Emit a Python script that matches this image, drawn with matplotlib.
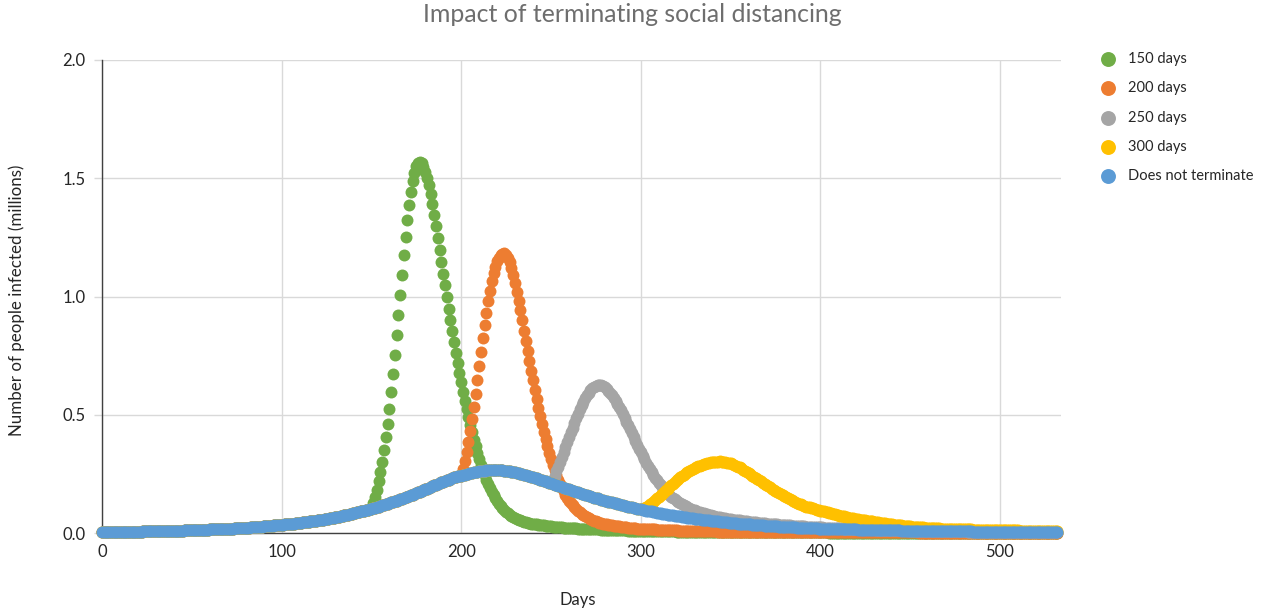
import numpy as np
import matplotlib
matplotlib.use("Agg")
import matplotlib.pyplot as plt

plt.rcParams['font.family'] = ['Lato', 'DejaVu Sans']

# ---------------- data (millions infected per day) ----------------
days = list(range(0, 533))

does_not_terminate = [
    0.004, 0.004, 0.004, 0.004, 0.004, 0.004, 0.005, 0.005, 0.005, 0.005,
    0.005, 0.005, 0.005, 0.005, 0.005, 0.006, 0.006, 0.006, 0.006, 0.006,
    0.006, 0.006, 0.006, 0.007, 0.007, 0.007, 0.007, 0.007, 0.007, 0.008,
    0.008, 0.008, 0.008, 0.008, 0.008, 0.008, 0.009, 0.009, 0.009, 0.009,
    0.009, 0.010, 0.010, 0.010, 0.010, 0.010, 0.011, 0.011, 0.011, 0.011,
    0.012, 0.012, 0.012, 0.012, 0.013, 0.013, 0.013, 0.013, 0.014, 0.014,
    0.015, 0.015, 0.015, 0.016, 0.016, 0.016, 0.017, 0.017, 0.017, 0.018,
    0.018, 0.018, 0.019, 0.019, 0.020, 0.020, 0.020, 0.021, 0.021, 0.022,
    0.022, 0.023, 0.023, 0.024, 0.024, 0.025, 0.025, 0.026, 0.026, 0.027,
    0.028, 0.028, 0.029, 0.030, 0.030, 0.031, 0.032, 0.032, 0.033, 0.034,
    0.034, 0.035, 0.036, 0.037, 0.037, 0.038, 0.039, 0.040, 0.041, 0.042,
    0.043, 0.044, 0.045, 0.046, 0.047, 0.048, 0.049, 0.050, 0.051, 0.052,
    0.053, 0.054, 0.055, 0.057, 0.058, 0.059, 0.060, 0.062, 0.063, 0.065,
    0.066, 0.068, 0.069, 0.071, 0.072, 0.074, 0.076, 0.078, 0.079, 0.081,
    0.083, 0.085, 0.087, 0.089, 0.091, 0.093, 0.095, 0.097, 0.099, 0.101,
    0.103, 0.105, 0.107, 0.110, 0.112, 0.114, 0.117, 0.119, 0.122, 0.124,
    0.127, 0.130, 0.132, 0.135, 0.137, 0.140, 0.143, 0.145, 0.148, 0.151,
    0.153, 0.156, 0.159, 0.162, 0.165, 0.168, 0.172, 0.175, 0.178, 0.181,
    0.185, 0.188, 0.191, 0.195, 0.198, 0.201, 0.204, 0.207, 0.211, 0.214,
    0.217, 0.220, 0.223, 0.226, 0.229, 0.232, 0.235, 0.237, 0.239, 0.241,
    0.243, 0.245, 0.247, 0.249, 0.251, 0.253, 0.255, 0.257, 0.259, 0.260,
    0.261, 0.262, 0.263, 0.264, 0.265, 0.266, 0.266, 0.266, 0.267, 0.267,
    0.266, 0.266, 0.265, 0.265, 0.264, 0.263, 0.262, 0.261, 0.260, 0.258,
    0.257, 0.255, 0.253, 0.251, 0.249, 0.247, 0.245, 0.243, 0.240, 0.238,
    0.236, 0.233, 0.231, 0.228, 0.226, 0.223, 0.221, 0.218, 0.216, 0.213,
    0.210, 0.208, 0.205, 0.202, 0.200, 0.197, 0.195, 0.192, 0.189, 0.187,
    0.184, 0.182, 0.179, 0.177, 0.174, 0.172, 0.169, 0.167, 0.164, 0.162,
    0.160, 0.157, 0.155, 0.153, 0.150, 0.148, 0.146, 0.144, 0.141, 0.139,
    0.137, 0.135, 0.133, 0.131, 0.129, 0.127, 0.125, 0.123, 0.121, 0.119,
    0.117, 0.115, 0.114, 0.112, 0.110, 0.108, 0.107, 0.105, 0.103, 0.102,
    0.100, 0.098, 0.097, 0.095, 0.094, 0.092, 0.091, 0.089, 0.088, 0.086,
    0.085, 0.084, 0.082, 0.081, 0.080, 0.078, 0.077, 0.076, 0.075, 0.073,
    0.072, 0.071, 0.070, 0.069, 0.068, 0.066, 0.065, 0.064, 0.063, 0.062,
    0.061, 0.060, 0.059, 0.058, 0.057, 0.056, 0.055, 0.054, 0.053, 0.052,
    0.051, 0.050, 0.050, 0.049, 0.048, 0.047, 0.046, 0.045, 0.045, 0.044,
    0.043, 0.042, 0.042, 0.041, 0.040, 0.040, 0.039, 0.038, 0.038, 0.037,
    0.036, 0.036, 0.035, 0.035, 0.034, 0.033, 0.033, 0.032, 0.032, 0.031,
    0.031, 0.030, 0.030, 0.029, 0.029, 0.028, 0.028, 0.027, 0.027, 0.026,
    0.026, 0.026, 0.025, 0.025, 0.024, 0.024, 0.024, 0.023, 0.023, 0.023,
    0.022, 0.022, 0.022, 0.021, 0.021, 0.021, 0.020, 0.020, 0.020, 0.019,
    0.019, 0.019, 0.019, 0.018, 0.018, 0.018, 0.018, 0.017, 0.017, 0.017,
    0.017, 0.016, 0.016, 0.016, 0.016, 0.016, 0.015, 0.015, 0.015, 0.015,
    0.015, 0.014, 0.014, 0.014, 0.014, 0.014, 0.013, 0.013, 0.013, 0.013,
    0.013, 0.013, 0.012, 0.012, 0.012, 0.012, 0.012, 0.012, 0.011, 0.011,
    0.011, 0.011, 0.011, 0.011, 0.011, 0.010, 0.010, 0.010, 0.010, 0.010,
    0.010, 0.010, 0.010, 0.009, 0.009, 0.009, 0.009, 0.009, 0.009, 0.009,
    0.009, 0.009, 0.008, 0.008, 0.008, 0.008, 0.008, 0.008, 0.008, 0.008,
    0.008, 0.008, 0.007, 0.007, 0.007, 0.007, 0.007, 0.007, 0.007, 0.007,
    0.007, 0.007, 0.007, 0.007, 0.007, 0.006, 0.006, 0.006, 0.006, 0.006,
    0.006, 0.006, 0.006, 0.006, 0.006, 0.006, 0.006, 0.006, 0.006, 0.006,
    0.006, 0.006, 0.005, 0.005, 0.005, 0.005, 0.005, 0.005, 0.005, 0.005,
    0.005, 0.005, 0.005, 0.005, 0.005, 0.005, 0.005, 0.005, 0.005, 0.005,
    0.005, 0.005, 0.004, 0.004, 0.004, 0.004, 0.004, 0.004, 0.004, 0.004,
    0.004, 0.004, 0.004,
]

# values after social distancing ends (before that day they equal "does not terminate")
after_150 = [  # days 150..532
    0.103, 0.125, 0.152, 0.183, 0.218, 0.258, 0.302, 0.350, 0.404, 0.462,
    0.526, 0.596, 0.672, 0.752, 0.836, 0.922, 1.008, 1.092, 1.174, 1.252,
    1.324, 1.388, 1.443, 1.488, 1.524, 1.550, 1.564, 1.569, 1.563, 1.549,
    1.528, 1.502, 1.470, 1.432, 1.390, 1.344, 1.296, 1.247, 1.197, 1.147,
    1.097, 1.047, 0.997, 0.948, 0.900, 0.853, 0.807, 0.762, 0.719, 0.677,
    0.637, 0.598, 0.560, 0.524, 0.490, 0.457, 0.425, 0.395, 0.366, 0.339,
    0.313, 0.289, 0.266, 0.245, 0.225, 0.207, 0.190, 0.174, 0.160, 0.147,
    0.135, 0.124, 0.114, 0.105, 0.097, 0.090, 0.083, 0.077, 0.072, 0.067,
    0.063, 0.059, 0.056, 0.053, 0.050, 0.048, 0.046, 0.044, 0.042, 0.040,
    0.039, 0.037, 0.036, 0.035, 0.034, 0.033, 0.032, 0.031, 0.030, 0.029,
    0.028, 0.027, 0.027, 0.026, 0.025, 0.025, 0.024, 0.023, 0.023, 0.022,
    0.022, 0.021, 0.021, 0.020, 0.020, 0.019, 0.019, 0.018, 0.018, 0.018,
    0.017, 0.017, 0.016, 0.016, 0.016, 0.015, 0.015, 0.015, 0.014, 0.014,
    0.014, 0.013, 0.013, 0.013, 0.013, 0.012, 0.012, 0.012, 0.012, 0.011,
    0.011, 0.011, 0.011, 0.010, 0.010, 0.010, 0.010, 0.010, 0.009, 0.009,
    0.009, 0.009, 0.009, 0.009, 0.008, 0.008, 0.008, 0.008, 0.008, 0.008,
    0.008, 0.008, 0.007, 0.007, 0.007, 0.007, 0.007, 0.007, 0.007, 0.007,
    0.006, 0.006, 0.006, 0.006, 0.006, 0.006, 0.006, 0.006, 0.006, 0.006,
    0.006, 0.006, 0.006, 0.006, 0.006, 0.005, 0.005, 0.005, 0.005, 0.005,
    0.005, 0.005, 0.005, 0.005, 0.005, 0.005, 0.005, 0.005, 0.005, 0.005,
    0.005, 0.005, 0.004, 0.004, 0.004, 0.004, 0.004, 0.004, 0.004, 0.004,
    0.004, 0.004, 0.004, 0.004, 0.004, 0.004, 0.004, 0.004, 0.004, 0.004,
    0.004, 0.004, 0.004, 0.004, 0.004, 0.003, 0.003, 0.003, 0.003, 0.003,
    0.003, 0.003, 0.003, 0.003, 0.003, 0.003, 0.003, 0.003, 0.003, 0.003,
    0.003, 0.003, 0.003, 0.003, 0.003, 0.003, 0.003, 0.003, 0.003, 0.003,
    0.003, 0.003, 0.003, 0.003, 0.003, 0.002, 0.002, 0.002, 0.002, 0.002,
    0.002, 0.002, 0.002, 0.002, 0.002, 0.002, 0.002, 0.002, 0.002, 0.002,
    0.002, 0.002, 0.002, 0.002, 0.002, 0.002, 0.002, 0.002, 0.002, 0.002,
    0.002, 0.002, 0.002, 0.002, 0.002, 0.002, 0.002, 0.002, 0.002, 0.002,
    0.002, 0.002, 0.002, 0.002, 0.002, 0.002, 0.002, 0.002, 0.002, 0.002,
    0.002, 0.002, 0.002, 0.002, 0.002, 0.002, 0.002, 0.002, 0.002, 0.002,
    0.002, 0.002, 0.002, 0.002, 0.002, 0.002, 0.002, 0.002, 0.002, 0.002,
    0.002, 0.002, 0.002, 0.002, 0.002, 0.002, 0.002, 0.002, 0.002, 0.002,
    0.001, 0.001, 0.001, 0.001, 0.001, 0.001, 0.001, 0.001, 0.001, 0.001,
    0.001, 0.001, 0.001, 0.001, 0.001, 0.001, 0.001, 0.001, 0.001, 0.001,
    0.001, 0.001, 0.001, 0.001, 0.001, 0.001, 0.001, 0.001, 0.001, 0.001,
    0.001, 0.001, 0.001, 0.001, 0.001, 0.001, 0.001, 0.001, 0.001, 0.001,
    0.001, 0.001, 0.001, 0.001, 0.001, 0.001, 0.001, 0.001, 0.001, 0.001,
    0.001, 0.001, 0.001,
]

after_200 = [  # days 200..532
    0.243, 0.272, 0.305, 0.342, 0.384, 0.430, 0.480, 0.533, 0.589, 0.647,
    0.706, 0.765, 0.823, 0.879, 0.932, 0.981, 1.025, 1.064, 1.098, 1.126,
    1.148, 1.164, 1.175, 1.181, 1.182, 1.176, 1.164, 1.146, 1.122, 1.092,
    1.058, 1.021, 0.982, 0.941, 0.899, 0.856, 0.813, 0.770, 0.728, 0.686,
    0.645, 0.605, 0.567, 0.530, 0.494, 0.460, 0.427, 0.396, 0.367, 0.339,
    0.313, 0.289, 0.266, 0.245, 0.226, 0.208, 0.191, 0.176, 0.162, 0.149,
    0.137, 0.127, 0.117, 0.109, 0.101, 0.094, 0.087, 0.081, 0.076, 0.071,
    0.066, 0.062, 0.058, 0.055, 0.052, 0.049, 0.046, 0.044, 0.042, 0.040,
    0.038, 0.036, 0.035, 0.033, 0.032, 0.031, 0.030, 0.029, 0.028, 0.027,
    0.026, 0.025, 0.024, 0.023, 0.022, 0.022, 0.021, 0.020, 0.019, 0.019,
    0.018, 0.018, 0.017, 0.017, 0.016, 0.016, 0.015, 0.015, 0.015, 0.014,
    0.014, 0.013, 0.013, 0.013, 0.012, 0.012, 0.012, 0.011, 0.011, 0.011,
    0.011, 0.010, 0.010, 0.010, 0.010, 0.009, 0.009, 0.009, 0.009, 0.009,
    0.008, 0.008, 0.008, 0.008, 0.008, 0.008, 0.007, 0.007, 0.007, 0.007,
    0.007, 0.007, 0.007, 0.006, 0.006, 0.006, 0.006, 0.006, 0.006, 0.006,
    0.006, 0.006, 0.006, 0.006, 0.006, 0.005, 0.005, 0.005, 0.005, 0.005,
    0.005, 0.005, 0.005, 0.005, 0.005, 0.005, 0.005, 0.005, 0.005, 0.005,
    0.005, 0.005, 0.005, 0.005, 0.005, 0.004, 0.004, 0.004, 0.004, 0.004,
    0.004, 0.004, 0.004, 0.004, 0.004, 0.004, 0.004, 0.004, 0.004, 0.004,
    0.004, 0.004, 0.004, 0.004, 0.004, 0.004, 0.004, 0.004, 0.004, 0.004,
    0.004, 0.004, 0.004, 0.004, 0.004, 0.003, 0.003, 0.003, 0.003, 0.003,
    0.003, 0.003, 0.003, 0.003, 0.003, 0.003, 0.003, 0.003, 0.003, 0.003,
    0.003, 0.003, 0.003, 0.003, 0.003, 0.003, 0.003, 0.003, 0.003, 0.003,
    0.003, 0.003, 0.003, 0.003, 0.003, 0.003, 0.003, 0.003, 0.003, 0.003,
    0.003, 0.003, 0.003, 0.003, 0.003, 0.003, 0.003, 0.003, 0.003, 0.003,
    0.003, 0.003, 0.003, 0.003, 0.003, 0.002, 0.002, 0.002, 0.002, 0.002,
    0.002, 0.002, 0.002, 0.002, 0.002, 0.002, 0.002, 0.002, 0.002, 0.002,
    0.002, 0.002, 0.002, 0.002, 0.002, 0.002, 0.002, 0.002, 0.002, 0.002,
    0.002, 0.002, 0.002, 0.002, 0.002, 0.002, 0.002, 0.002, 0.002, 0.002,
    0.002, 0.002, 0.002, 0.002, 0.002, 0.002, 0.002, 0.002, 0.002, 0.002,
    0.002, 0.002, 0.002, 0.002, 0.002, 0.002, 0.002, 0.002, 0.002, 0.002,
    0.002, 0.002, 0.002, 0.002, 0.002, 0.001, 0.001, 0.001, 0.001, 0.001,
    0.001, 0.001, 0.001, 0.001, 0.001, 0.001, 0.001, 0.001, 0.001, 0.001,
    0.001, 0.001, 0.001,
]

after_250 = [  # days 250..532
    0.210, 0.226, 0.243, 0.261, 0.280, 0.300, 0.320, 0.341, 0.362, 0.383,
    0.404, 0.425, 0.446, 0.466, 0.486, 0.505, 0.523, 0.540, 0.556, 0.570,
    0.583, 0.594, 0.603, 0.611, 0.617, 0.621, 0.624, 0.625, 0.624, 0.621,
    0.616, 0.610, 0.602, 0.593, 0.583, 0.572, 0.560, 0.547, 0.533, 0.518,
    0.503, 0.487, 0.471, 0.455, 0.438, 0.422, 0.405, 0.389, 0.373, 0.357,
    0.342, 0.327, 0.312, 0.298, 0.284, 0.271, 0.258, 0.246, 0.234, 0.223,
    0.212, 0.202, 0.193, 0.184, 0.176, 0.168, 0.161, 0.154, 0.148, 0.142,
    0.136, 0.131, 0.126, 0.121, 0.117, 0.113, 0.109, 0.105, 0.102, 0.099,
    0.096, 0.093, 0.090, 0.088, 0.085, 0.083, 0.081, 0.079, 0.077, 0.075,
    0.073, 0.071, 0.069, 0.068, 0.066, 0.065, 0.063, 0.062, 0.060, 0.059,
    0.058, 0.057, 0.056, 0.055, 0.054, 0.053, 0.052, 0.051, 0.050, 0.049,
    0.048, 0.047, 0.046, 0.045, 0.045, 0.044, 0.043, 0.042, 0.042, 0.041,
    0.040, 0.039, 0.039, 0.038, 0.037, 0.037, 0.036, 0.035, 0.035, 0.034,
    0.034, 0.033, 0.032, 0.032, 0.031, 0.031, 0.030, 0.030, 0.029, 0.029,
    0.028, 0.028, 0.027, 0.027, 0.026, 0.026, 0.026, 0.025, 0.025, 0.024,
    0.024, 0.024, 0.023, 0.023, 0.022, 0.022, 0.022, 0.021, 0.021, 0.021,
    0.020, 0.020, 0.020, 0.019, 0.019, 0.019, 0.018, 0.018, 0.018, 0.018,
    0.017, 0.017, 0.017, 0.016, 0.016, 0.016, 0.016, 0.015, 0.015, 0.015,
    0.015, 0.014, 0.014, 0.014, 0.014, 0.013, 0.013, 0.013, 0.013, 0.013,
    0.012, 0.012, 0.012, 0.012, 0.012, 0.011, 0.011, 0.011, 0.011, 0.011,
    0.010, 0.010, 0.010, 0.010, 0.010, 0.010, 0.009, 0.009, 0.009, 0.009,
    0.009, 0.009, 0.009, 0.008, 0.008, 0.008, 0.008, 0.008, 0.008, 0.008,
    0.007, 0.007, 0.007, 0.007, 0.007, 0.007, 0.007, 0.007, 0.007, 0.007,
    0.007, 0.007, 0.006, 0.006, 0.006, 0.006, 0.006, 0.006, 0.006, 0.006,
    0.006, 0.006, 0.006, 0.006, 0.006, 0.006, 0.006, 0.006, 0.006, 0.006,
    0.005, 0.005, 0.005, 0.005, 0.005, 0.005, 0.005, 0.005, 0.005, 0.005,
    0.005, 0.005, 0.005, 0.004, 0.004, 0.004, 0.004, 0.004, 0.004, 0.004,
    0.004, 0.004, 0.004, 0.004, 0.004, 0.004, 0.004, 0.004, 0.004, 0.004,
    0.004, 0.004, 0.004,
]

after_300 = [  # days 300..532
    0.100, 0.103, 0.107, 0.111, 0.116, 0.121, 0.127, 0.133, 0.139, 0.146,
    0.153, 0.160, 0.167, 0.174, 0.181, 0.188, 0.195, 0.202, 0.209, 0.216,
    0.222, 0.229, 0.235, 0.241, 0.247, 0.252, 0.257, 0.262, 0.267, 0.271,
    0.275, 0.279, 0.282, 0.285, 0.288, 0.291, 0.293, 0.295, 0.297, 0.299,
    0.300, 0.301, 0.302, 0.302, 0.303, 0.302, 0.301, 0.300, 0.298, 0.296,
    0.294, 0.291, 0.288, 0.285, 0.281, 0.277, 0.273, 0.268, 0.263, 0.258,
    0.253, 0.248, 0.243, 0.238, 0.233, 0.228, 0.223, 0.218, 0.213, 0.208,
    0.203, 0.198, 0.193, 0.188, 0.183, 0.178, 0.173, 0.168, 0.164, 0.160,
    0.156, 0.152, 0.148, 0.144, 0.140, 0.136, 0.132, 0.128, 0.124, 0.121,
    0.118, 0.115, 0.112, 0.110, 0.108, 0.106, 0.104, 0.101, 0.099, 0.097,
    0.095, 0.093, 0.091, 0.089, 0.087, 0.085, 0.083, 0.081, 0.079, 0.077,
    0.075, 0.073, 0.071, 0.070, 0.068, 0.066, 0.065, 0.063, 0.062, 0.061,
    0.060, 0.058, 0.057, 0.056, 0.054, 0.053, 0.052, 0.051, 0.050, 0.049,
    0.048, 0.047, 0.045, 0.044, 0.043, 0.042, 0.041, 0.040, 0.038, 0.037,
    0.036, 0.035, 0.034, 0.034, 0.033, 0.032, 0.031, 0.030, 0.029, 0.029,
    0.028, 0.027, 0.027, 0.026, 0.025, 0.025, 0.024, 0.024, 0.023, 0.023,
    0.022, 0.022, 0.021, 0.021, 0.021, 0.020, 0.020, 0.019, 0.019, 0.019,
    0.018, 0.018, 0.018, 0.017, 0.017, 0.017, 0.017, 0.016, 0.016, 0.016,
    0.015, 0.015, 0.015, 0.015, 0.015, 0.014, 0.014, 0.014, 0.014, 0.014,
    0.013, 0.013, 0.013, 0.013, 0.013, 0.013, 0.012, 0.012, 0.012, 0.012,
    0.012, 0.012, 0.012, 0.011, 0.011, 0.011, 0.011, 0.011, 0.011, 0.011,
    0.011, 0.010, 0.010, 0.010, 0.010, 0.010, 0.010, 0.010, 0.010, 0.010,
    0.010, 0.010, 0.009, 0.009, 0.009, 0.009, 0.009, 0.009, 0.009, 0.009,
    0.009, 0.009, 0.009,
]

terminate_150 = does_not_terminate[:150] + after_150
terminate_200 = does_not_terminate[:200] + after_200
terminate_250 = does_not_terminate[:250] + after_250
terminate_300 = does_not_terminate[:300] + after_300

series_labels = ["150 days", "200 days", "250 days", "300 days", "Does not terminate"]
series_values = [terminate_150, terminate_200, terminate_250, terminate_300, does_not_terminate]
series_colors = ["#70AD47", "#ED7D31", "#A5A5A5", "#FFC000", "#5B9BD5"]

x_ticks = [0, 100, 200, 300, 400, 500]
y_ticks = [0.0, 0.5, 1.0, 1.5, 2.0]
y_tick_labels = ["0.0", "0.5", "1.0", "1.5", "2.0"]

# ---------------- figure ----------------
W, H = 1270, 615
fig = plt.figure(figsize=(W / 100, H / 100), dpi=100)
ax = fig.add_axes([102 / W, 1 - 533 / H, (1061 - 102) / W, (533 - 60) / H])

handles = []
for lab, vals, col in zip(series_labels, series_values, series_colors):
    h = ax.scatter(days, vals, s=74, color=col, linewidths=0, label=lab,
                   clip_on=False, zorder=3)
    handles.append(h)

ax.set_xlim(0, 534)
ax.set_ylim(0, 2.0)
ax.set_xticks(x_ticks)
ax.set_yticks(y_ticks)
ax.set_yticklabels(y_tick_labels)
ax.grid(True, color="#D9D9D9", linewidth=1.0, zorder=0)
ax.set_axisbelow(True)

for side in ["top", "right"]:
    ax.spines[side].set_visible(False)
ax.spines["left"].set_color("#404040")
ax.spines["bottom"].set_color("#404040")
ax.spines["left"].set_linewidth(1.0)
ax.spines["bottom"].set_linewidth(1.0)

ax.tick_params(axis="y", direction="out", length=6, width=1, color="#D9D9D9",
               labelsize=12, labelcolor="#262626", pad=6)
ax.tick_params(axis="x", length=0, labelsize=12, labelcolor="#262626", pad=8)

fig.text(632 / W, 1 - 15 / H, "Impact of terminating social distancing",
         ha="center", va="center", fontsize=17.9, color="#6E6E6E")
fig.text(17 / W, 1 - 300 / H, "Number of people infected (millions)",
         rotation=90, ha="center", va="center", fontsize=12.2, color="#262626")
fig.text(578 / W, 1 - 600 / H, "Days", ha="center", va="center",
         fontsize=12, color="#262626")

leg = fig.legend(handles=handles, labels=series_labels, loc="upper left",
                 bbox_to_anchor=(1099 / W, 1 - 52 / H), frameon=False,
                 fontsize=10.5, markerscale=1.25, handletextpad=0.8,
                 labelspacing=1.05, borderaxespad=0, borderpad=0,
                 handlelength=1.2)
for t in leg.get_texts():
    t.set_color("#262626")

fig.savefig("out.png", dpi=100)
